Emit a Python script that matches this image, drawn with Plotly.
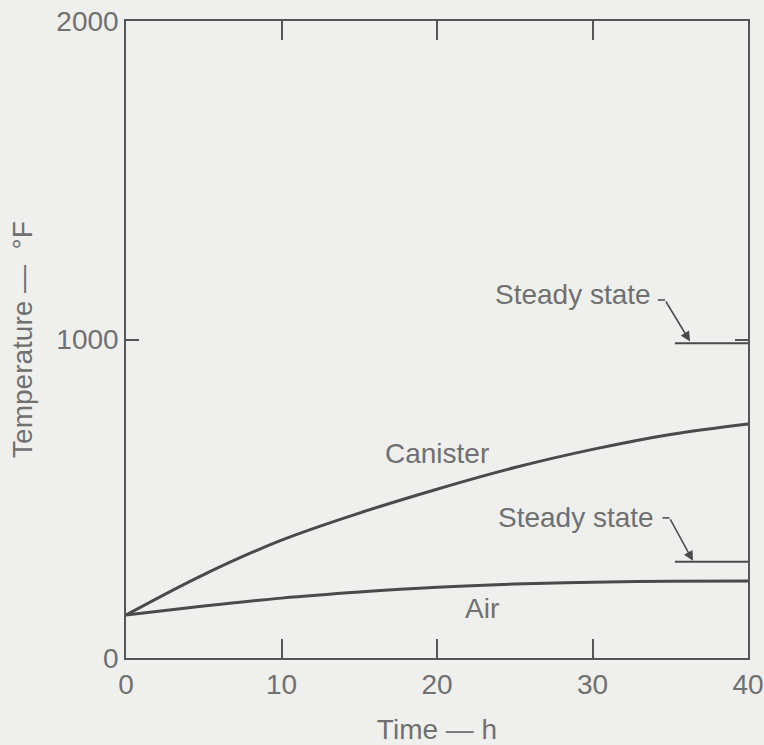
import plotly.graph_objects as go

# Data
time_h = [0, 5, 10, 15, 20, 25, 30, 35, 40]
canister_F = [135, 262, 370, 455, 530, 598, 655, 702, 735]
air_F = [135, 163, 188, 207, 222, 232, 238, 241, 242]
steady_x = [35.3, 40]
canister_steady_F = 988
air_steady_F = 302
x_ticks = [0, 10, 20, 30, 40]
y_ticks = [0, 1000, 2000]

BG = "#efefed"
LINE = "#4a4a4a"
TXT = "#707070"
FONT = "Liberation Sans"
FS = 28

fig = go.Figure()
fig.add_trace(go.Scatter(x=time_h, y=canister_F, mode="lines", name="Canister",
                         line=dict(color=LINE, width=3, shape="spline")))
fig.add_trace(go.Scatter(x=time_h, y=air_F, mode="lines", name="Air",
                         line=dict(color=LINE, width=3, shape="spline")))
fig.add_trace(go.Scatter(x=steady_x, y=[canister_steady_F] * 2, mode="lines",
                         line=dict(color=LINE, width=2)))
fig.add_trace(go.Scatter(x=steady_x, y=[air_steady_F] * 2, mode="lines",
                         line=dict(color=LINE, width=2)))

# Labels
fig.add_annotation(x=20.0, y=641, text="Canister", showarrow=False,
                   font=dict(size=FS, color=TXT, family=FONT))
fig.add_annotation(x=22.9, y=157, text="Air", showarrow=False,
                   font=dict(size=FS, color=TXT, family=FONT))
fig.add_annotation(x=33.9, y=1141, text="Steady state", showarrow=False,
                   xanchor="right", yanchor="middle",
                   font=dict(size=FS, color=TXT, family=FONT))
fig.add_annotation(x=34.1, y=440, text="Steady state", showarrow=False,
                   xanchor="right", yanchor="middle",
                   font=dict(size=FS, color=TXT, family=FONT))

# Leader lines: short dash then diagonal arrow
for (dx0, dx1, dy, tx, ty) in [(34.2, 34.66, 1124, 36.27, 994),
                               (34.5, 34.95, 440, 36.46, 305)]:
    fig.add_shape(type="line", x0=dx0, x1=dx1, y0=dy, y1=dy,
                  line=dict(color=LINE, width=1.5))
    fig.add_annotation(x=tx, y=ty, ax=dx1, ay=dy, axref="x", ayref="y",
                       text="", showarrow=True, arrowhead=2, arrowsize=1.3,
                       arrowwidth=1.5, arrowcolor=LINE, standoff=0)

fig.update_xaxes(range=[0, 40], tickvals=x_ticks, ticks="inside", ticklen=19,
                 tickwidth=1.5, tickcolor="#555", showline=True, linecolor="#555",
                 linewidth=1.5, mirror="ticks", showgrid=False, zeroline=False,
                 tickfont=dict(size=FS, color=TXT, family=FONT),
                 ticklabelstandoff=1,
                 title=dict(text="Time — h", standoff=20,
                            font=dict(size=FS, color=TXT, family=FONT)))
fig.update_yaxes(range=[0, 2000], tickvals=y_ticks, ticks="inside", ticklen=13,
                 tickwidth=1.5, tickcolor="#555", showline=True, linecolor="#555",
                 linewidth=1.5, mirror="ticks", showgrid=False, zeroline=False,
                 tickfont=dict(size=FS, color=TXT, family=FONT),
                 title=dict(text="Temperature —  °F", standoff=16,
                            font=dict(size=FS, color=TXT, family=FONT)))

fig.update_layout(width=764, height=745, showlegend=False,
                  margin=dict(l=126, r=16, t=21, b=87, autoexpand=False),
                  paper_bgcolor=BG, plot_bgcolor=BG)

fig.write_html("out.html")
